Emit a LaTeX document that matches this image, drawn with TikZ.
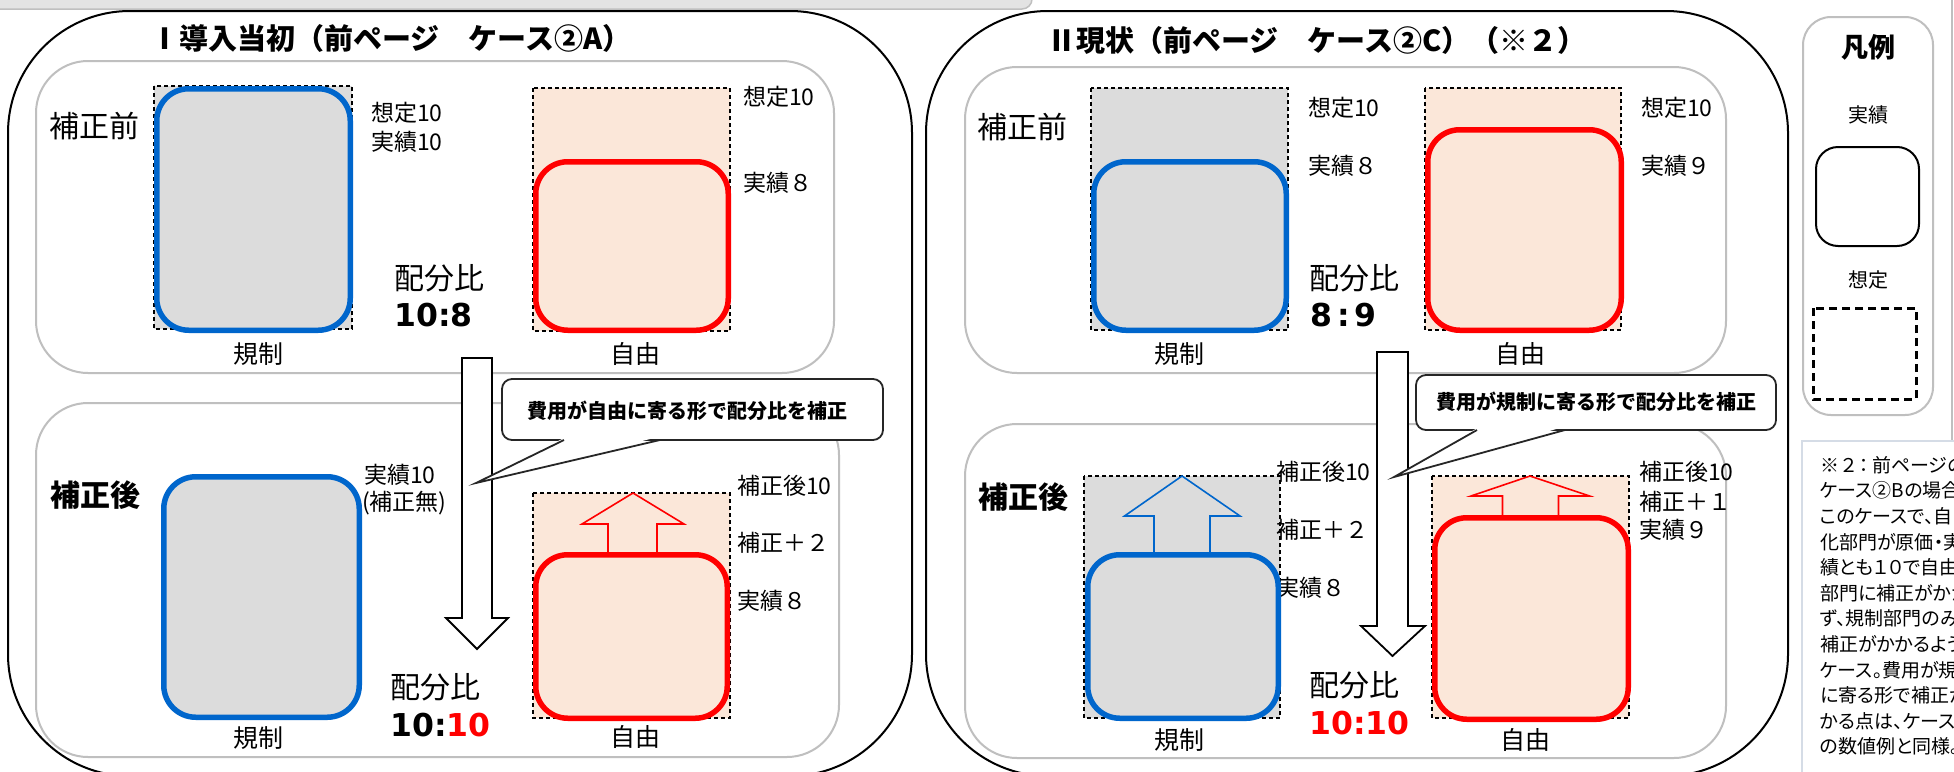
\documentclass[tikz,border=0pt]{standalone}
\usepackage{fontspec}
\setmainfont{Noto Sans CJK JP}
\newfontfamily\notefont[RawFeature=+palt]{Noto Sans CJK JP}
\newfontfamily\numfont{DejaVu Sans}
\definecolor{myblue}{HTML}{0066CC}
\definecolor{myred}{HTML}{FF0000}
\definecolor{graybox}{HTML}{DCDCDC}
\definecolor{peach}{HTML}{FBE7D9}
\definecolor{innerline}{HTML}{BFBFBF}
\definecolor{barfill}{HTML}{E3E3E3}
\definecolor{notebd}{HTML}{D5DCE6}
\tikzset{
  outerpanel/.style={draw=black, line width=2pt, rounded corners=122pt},
  innerpanel/.style={draw=innerline, line width=2pt, rounded corners=52pt},
  assumed/.style={draw=black, dash pattern=on 4pt off 3pt, line width=1.5pt},
  actualblue/.style={draw=myblue, line width=5.5pt, rounded corners=32pt, fill=graybox},
  actualred/.style={draw=myred, line width=5.5pt, rounded corners=32pt, fill=peach},
  lbl/.style={anchor=west, inner sep=0pt, font=\fontsize{23}{27}\selectfont},
  big/.style={anchor=west, inner sep=0pt, font=\fontsize{30}{34}\selectfont},
  bigb/.style={anchor=west, inner sep=0pt, font=\bfseries\fontsize{30}{34}\selectfont},
  ratio/.style={anchor=west, inner sep=0pt, font=\numfont\bfseries\fontsize{31.5}{36}\selectfont},
  cat/.style={anchor=center, inner sep=0pt, font=\fontsize{25}{30}\selectfont},
  ttl/.style={anchor=west, inner sep=0pt, font=\bfseries\fontsize{29}{32}\selectfont},
  calloutbox/.style={draw=black!85, line width=1.8pt, fill=white, rounded corners=10pt},
  calltxt/.style={anchor=center, inner sep=0pt, font=\bfseries\fontsize{20}{24}\selectfont},
  bigarrow/.style={draw=black, line width=1.8pt, fill=white},
  uparrowred/.style={draw=myred, line width=1.6pt},
  uparrowblue/.style={draw=myblue, line width=1.6pt},
  legtxt/.style={anchor=center, inner sep=0pt, font=\fontsize{20}{24}\selectfont},
  notetxt/.style={anchor=west, inner sep=0pt, font=\notefont\fontsize{19}{24}\selectfont}
}
\begin{document}
\begin{tikzpicture}[x=1pt,y=-1pt]
\useasboundingbox (0,0) rectangle (1954,771);
\clip (0,0) rectangle (1954,771);
\fill[white] (0,0) rectangle (1954,771);

% top bar
\draw[draw=innerline, fill=barfill, line width=1.5pt, rounded corners=10pt] (-20,-40) rectangle (1032,9);

% ================= Panel I =================
\draw[outerpanel] (8,11) rectangle (912,776);
\node[ttl] (t1) at (150,38) {Ⅰ導入当初（前ページ　ケース②A）};
\draw[innerpanel] (36,61) rectangle (834,373);
\draw[innerpanel] (36,403) rectangle (839,757);

% upper
\draw[assumed, fill=graybox] (154,86) rectangle (352,329);
\draw[actualblue] (156.75,88.75) rectangle (350.25,330.25);
\draw[assumed, fill=peach] (533,88) rectangle (730,331);
\draw[actualred] (535.75,161.75) rectangle (728.25,330.25);
\node[big] (a1) at (49,126) {補正前};
\node[lbl] (a2) at (371,113) {想定10};
\node[lbl] (a3) at (371,142) {実績10};
\node[lbl] (a4) at (743,97) {想定10};
\node[lbl] (a5) at (743,183) {実績８};
\node[big] (a6) at (394,278) {配分比};
\node[ratio] (a7) at (394,315) {10:8};
\node[cat] (a8) at (258,354) {規制};
\node[cat] (a9) at (635,354) {自由};

% lower
\draw[actualblue] (163.75,476.75) rectangle (359.25,717.25);
\draw[assumed, fill=peach] (533,493) rectangle (730,718);
\draw[uparrowred] (608,555) -- (608,524) -- (582,524) -- (633,493) -- (684,524) -- (657,524) -- (657,555);
\draw[actualred] (535.75,554.75) rectangle (727.25,718.25);
\node[bigb] (b1) at (50,495) {補正後};
\node[lbl] (b2) at (364,475) {実績10};
\node[lbl] (b3) at (362,503) {(補正無)};
\node[lbl] (b4) at (737,486) {補正後10};
\node[lbl] (b5) at (737,543) {補正＋２};
\node[lbl] (b6) at (737,601) {実績８};
\node[big] (b7) at (390,687) {配分比};
\node[ratio] (b8) at (390,725) {10:\textcolor{myred}{10}};
\node[cat] (b9) at (258,738) {規制};
\node[cat] (b10) at (635,737) {自由};

% big down arrow I
\draw[bigarrow] (462,358) -- (492,358) -- (492,618) -- (508,618) -- (477,649) -- (446,618) -- (462,618) -- cycle;
% callout I
\draw[calloutbox] (502,379) rectangle (883,440);
\fill[white] (566,437) -- (658,437) -- (476,483) -- cycle;
\draw[draw=black!85, line width=1.8pt, line join=miter] (564,440) -- (476,483) -- (660,440);
\node[calltxt] (c1) at (687,411) {費用が自由に寄る形で配分比を補正};

% ================= Panel II =================
\draw[outerpanel] (926,11) rectangle (1788,776);
\node[ttl] (t2) at (1047,40) {Ⅱ現状（前ページ　ケース②C）（※２）};
\draw[innerpanel] (965,67) rectangle (1726,373);
\draw[innerpanel] (965,424) rectangle (1726,758);

% upper
\draw[assumed, fill=graybox] (1091,88) rectangle (1288,330);
\draw[actualblue] (1093.75,161.75) rectangle (1286.25,330.25);
\draw[assumed, fill=peach] (1425,88) rectangle (1621,330);
\draw[actualred] (1427.75,129.75) rectangle (1621.25,330.25);
\node[big] (d1) at (977,127) {補正前};
\node[lbl] (d2) at (1308,108) {想定10};
\node[lbl] (d3) at (1308,166) {実績８};
\node[lbl] (d4) at (1641,108) {想定10};
\node[lbl] (d5) at (1641,166) {実績９};
\node[big] (d6) at (1309,278) {配分比};
\node[ratio] (d7) at (1310,315) {8\hspace{5pt}:\hspace{5pt}9};
\node[cat] (d8) at (1179,354) {規制};
\node[cat] (d9) at (1520,354) {自由};

% lower
\node[lbl] (e4) at (1276,588) {実績８};
\draw[assumed, fill=graybox] (1084,476) rectangle (1280,718);
\node[lbl] (e2) at (1276,472) {補正後10};
\node[lbl] (e3) at (1276,530) {補正＋２};
\draw[uparrowblue] (1154,555) -- (1154,516) -- (1124.5,516) -- (1182,476) -- (1240,516) -- (1210,516) -- (1210,555);
\draw[actualblue] (1087.75,554.75) rectangle (1278.25,718.25);
\draw[assumed, fill=peach] (1432,476) rectangle (1629,718);
\draw[uparrowred] (1502.5,518) -- (1502.5,496) -- (1471,496) -- (1530,476) -- (1589.5,496) -- (1558.5,496) -- (1558.5,518);
\draw[actualred] (1434.75,517.75) rectangle (1628.25,719.25);
\node[bigb] (e1) at (978,497) {補正後};
\node[lbl] (e5) at (1639,472) {補正後10};
\node[lbl] (e6) at (1639,502) {補正＋１};
\node[lbl] (e7) at (1639,530) {実績９};
\node[big] (e8) at (1309,685) {配分比};
\node[ratio, text=myred] (e9) at (1309,723) {10:10};
\node[cat] (e10) at (1179,740) {規制};
\node[cat] (e11) at (1525,740) {自由};

% big down arrow II
\draw[bigarrow] (1377,352) -- (1408,352) -- (1408,626) -- (1425,626) -- (1392.5,656) -- (1361,626) -- (1377,626) -- cycle;
% callout II
\draw[calloutbox] (1416,375) rectangle (1776,430);
\fill[white] (1479,427) -- (1563,427) -- (1394,477) -- cycle;
\draw[draw=black!85, line width=1.8pt, line join=miter] (1477,430) -- (1394,477) -- (1565,430);
\node[calltxt] (c2) at (1596,402) {費用が規制に寄る形で配分比を補正};

% ================= Legend =================
\draw[draw=innerline, line width=2pt, rounded corners=28pt] (1803,17) rectangle (1933,415);
\node[anchor=center, inner sep=0pt, font=\bfseries\fontsize{27}{30}\selectfont] (l1) at (1868,47) {凡例};
\node[legtxt] (l2) at (1868,115) {実績};
\draw[draw=black, line width=2pt, rounded corners=22pt] (1816,147) rectangle (1919,246);
\node[legtxt] (l3) at (1868,280) {想定};
\draw[draw=black, line width=3pt, dash pattern=on 8pt off 5pt] (1813,308) rectangle (1916,399);
\draw[draw=innerline, line width=1.5pt] (1952,0) -- (1952,441);

% ================= Note =================
\draw[draw=notebd, line width=2pt, fill=white] (1802,441) rectangle (1975,790);
\foreach \t [count=\i] in {※\hspace{3pt}２\hspace{3pt}：\hspace{3pt}前ページの,ケース②Bの場合。,このケースで、自由,化部門が原価・実,績とも１０で自由化,部門に補正がかから,ず、規制部門のみに,補正がかかるような,ケース。費用が規制,に寄る形で補正がか,かる点は、ケース②C,の数値例と同様。}{
  \node[notetxt] (n\i) at (1820,{465+25.6*(\i-1)}) {\t};
}
\end{tikzpicture}
\end{document}
